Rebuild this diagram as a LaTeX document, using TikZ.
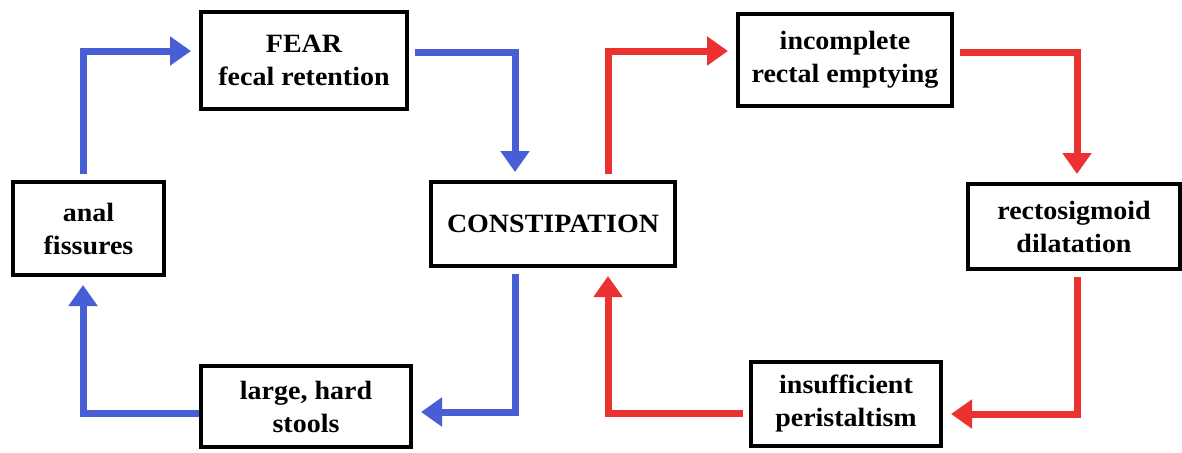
\documentclass[tikz,border=0pt]{standalone}
\usepackage{fontspec}
\setmainfont{Liberation Serif}[FakeStretch=1.06]
\usetikzlibrary{arrows.meta}
\definecolor{cblue}{RGB}{72,94,212}
\definecolor{cred}{RGB}{236,50,48}

\begin{document}
\begin{tikzpicture} [x=0.5pt, y=-0.5pt, align=center,
    font=\bfseries\fontsize{13.2}{16.5}\selectfont,
    box/.style={draw, line width=2.2pt, inner sep=0pt},
    loopb/.style={cblue, line width=3.5pt, shorten <=3pt, shorten >=4pt,
      -{Triangle[width=14pt,length=10.5pt]}},
    loopr/.style={loopb, cred}]
  \useasboundingbox (0,0) rectangle (1182,452);
  \path  (304,60.5)   node[box, minimum width=102.8pt, minimum height=48.3pt](F) {FEAR\\fecal retention}
         (88.5,228.5) node[box, minimum width=75.3pt, minimum height=46.3pt](A) {anal\\fissures}
         (553,224)    node[box, minimum width=121.8pt, minimum height=41.8pt](C) {CONSTIPATION}
         (845,60)     node[box, minimum width=106.8pt, minimum height=45.8pt](I) {incomplete\\rectal emptying}
         (1074,226.5) node[box, minimum width=105.8pt, minimum height=42.3pt](R) {rectosigmoid\\dilatation}
         (306,406.5)  node[box, minimum width=104.8pt, minimum height=40.3pt](L) {large, hard\\stools}
         (846,404)    node[box, minimum width=94.8pt, minimum height=41.8pt](P) {insufficient\\peristaltism};
    \draw [loopb] ([xshift=-2.75pt]A.north) |- ([yshift=4.75pt]F.west);
    \draw [loopb] ([yshift=4.25pt]F.east) -| ([xshift=-19pt]C.north);
    \draw [loopb] ([xshift=-19pt]C.south) |- ([yshift=-2.75pt]L.east);
    \draw [loopb, shorten <=0pt] ([yshift=-3.25pt]L.west) -| ([xshift=-2.75pt]A.south);
    \draw [loopr] ([xshift=27.5pt]C.north) |- ([yshift=4.5pt]I.west);
    \draw [loopr] ([yshift=4pt]I.east) -| ([xshift=1.5pt]R.north);
    \draw [loopr] ([xshift=1.5pt]R.south) |- ([yshift=-5pt]P.east);
    \draw [loopr] ([yshift=-4.5pt]P.west) -| ([xshift=27.5pt]C.south);

\end{tikzpicture}
\end{document}
